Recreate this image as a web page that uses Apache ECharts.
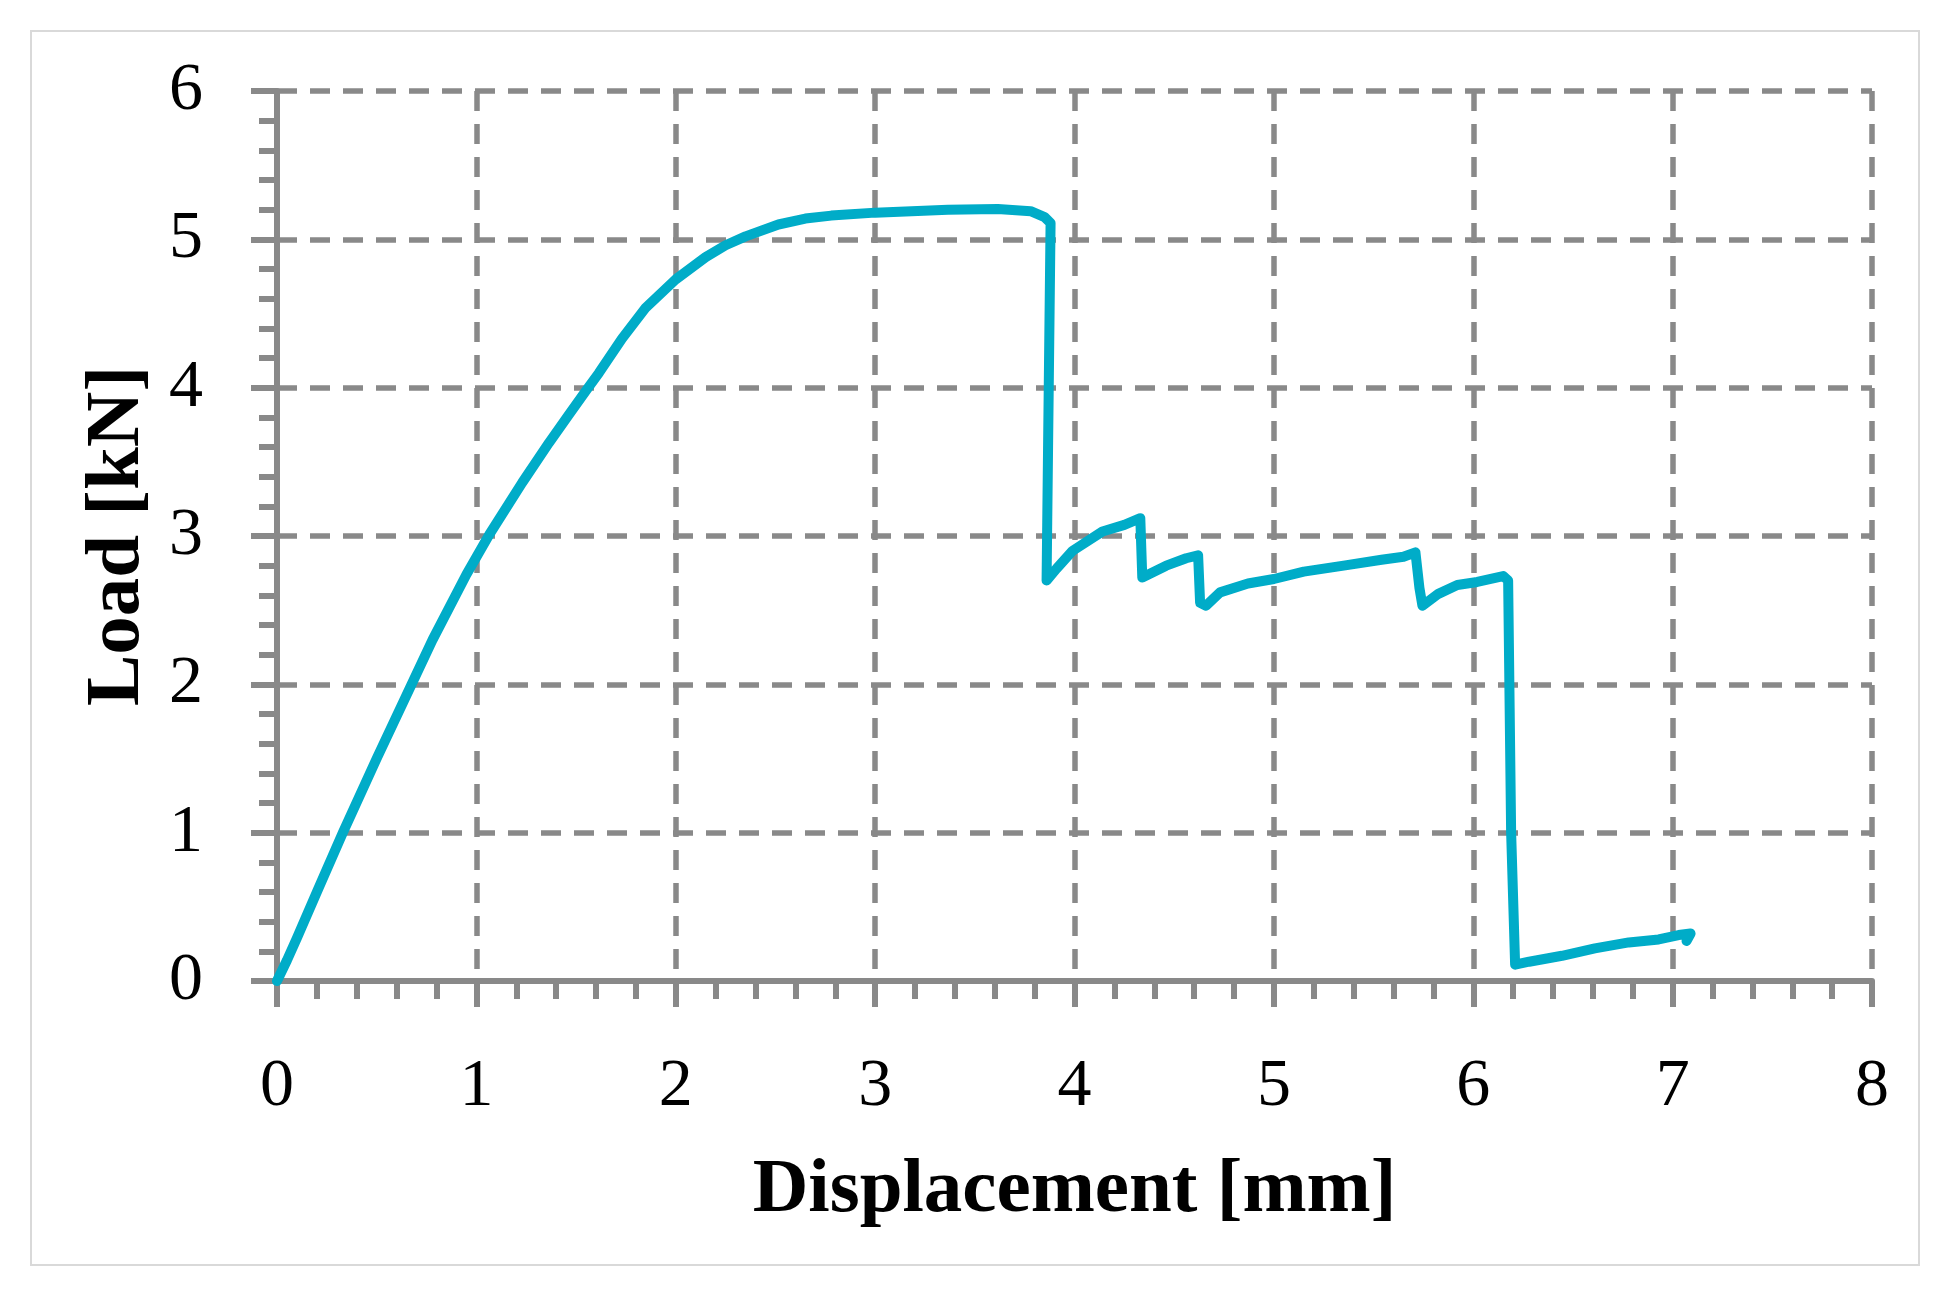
<!DOCTYPE html>
<html>
<head>
<meta charset="utf-8">
<script src="https://cdn.jsdelivr.net/npm/echarts@6/dist/echarts.min.js"></script>
<style>
html,body{margin:0;padding:0;background:#fff;}
#chart{width:1957px;height:1305px;}
</style>
</head>
<body>
<div id="chart"></div>
<script>
var displacement = [0,0.05,0.1,0.2,0.33,0.5,0.675,0.78,0.95,1.065,1.23,1.365,1.465,1.55,1.615,1.73,1.85,2.0,2.15,2.25,2.35,2.515,2.65,2.78,3.0,3.365,3.615,3.78,3.85,3.88,
  3.86,3.91,3.99,4.14,4.25,4.33,4.34,4.46,4.56,4.62,4.63,4.66,4.73,4.87,5.0,5.15,5.35,5.54,5.65,5.71,5.73,5.745,5.825,5.92,6.02,6.15,6.175,6.19,6.21,6.28,6.445,6.61,6.78,6.93,7.03,7.09,7.07];
var load = [0,0.14,0.29,0.6,1.0,1.5,2.0,2.3,2.74,3.01,3.36,3.63,3.82,3.98,4.10,4.33,4.54,4.73,4.88,4.96,5.02,5.10,5.14,5.16,5.18,5.2,5.205,5.19,5.15,5.11,
  2.70,2.78,2.90,3.03,3.075,3.12,2.72,2.80,2.85,2.87,2.55,2.53,2.62,2.68,2.71,2.76,2.80,2.84,2.86,2.89,2.65,2.53,2.61,2.67,2.69,2.73,2.70,1.0,0.11,0.13,0.17,0.22,0.26,0.28,0.31,0.32,0.27];
var xTicks = [0,1,2,3,4,5,6,7,8];
var yTicks = [0,1,2,3,4,5,6];
var xTitle = 'Displacement [mm]';
var yTitle = 'Load [kN]';

var serif = "'Palatino Linotype','Book Antiqua',Palatino,'URW Palladio L','P052','Liberation Serif','DejaVu Serif',serif";
var gray = '#898989';
var pts = displacement.map(function(x,i){return [x, load[i]];});

var chart = echarts.init(document.getElementById('chart'), null, {renderer:'canvas'});
var axisCommon = {
  type:'value',
  nameLocation:'middle',
  nameTextStyle:{fontFamily:serif,fontWeight:'bold',fontSize:77,color:'#000'},
  axisLine:{show:true,onZero:false,lineStyle:{color:gray,width:6}},
  axisTick:{show:true,length:26,lineStyle:{color:gray,width:6}},
  minorTick:{show:true,splitNumber:5,length:18,lineStyle:{color:gray,width:6}},
  splitLine:{show:true,lineStyle:{color:gray,width:5.5,type:[20,13]}},
  axisLabel:{fontFamily:serif,fontSize:68,color:'#000'}
};
chart.setOption({
  animation:false,
  backgroundColor:'#fff',
  graphic:[{type:'rect',shape:{x:31,y:31,width:1888,height:1234},style:{fill:null,stroke:'#d9d9d9',lineWidth:2},z:-10}],
  grid:{left:277,right:85,top:91,bottom:324,containLabel:false},
  xAxis:Object.assign({},axisCommon,{
    min:xTicks[0],max:xTicks[xTicks.length-1],interval:1,
    name:xTitle,nameGap:172,
    axisLabel:Object.assign({},axisCommon.axisLabel,{margin:72})
  }),
  yAxis:Object.assign({},axisCommon,{
    min:yTicks[0],max:yTicks[yTicks.length-1],interval:1,
    name:yTitle,nameGap:120,
    axisLabel:Object.assign({},axisCommon.axisLabel,{margin:74})
  }),
  series:[{
    type:'line',data:pts,showSymbol:false,smooth:false,
    lineStyle:{color:'#00ACC8',width:10,join:'round',cap:'round'},
    emphasis:{disabled:true},
    z:5
  }]
});
</script>
</body>
</html>
